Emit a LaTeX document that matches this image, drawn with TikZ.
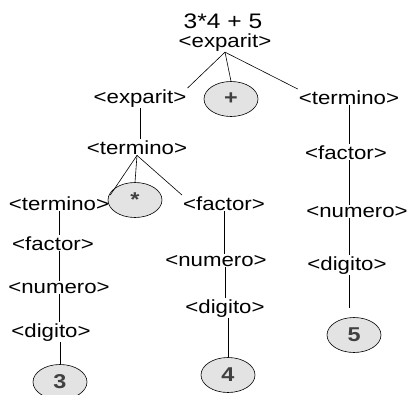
\documentclass[tikz,border=0pt]{standalone}
\usepackage{fontspec}
\setmainfont{Liberation Sans}[FakeStretch=1.17]
\usetikzlibrary{shapes.geometric}

\tikzset{
  sym/.style={anchor=base, inner sep=1pt, font=\fontsize{19}{21}\selectfont},
  tok/.style={ellipse, draw, line width=0.6pt, fill=gray!22, minimum width=54pt,
    minimum height=35pt, inner sep=0pt, text=black!75,
    font=\bfseries\fontsize{20}{22}\selectfont},
  arc/.style={line width=0.6pt}
}

\begin{document}
\begin{tikzpicture}[x=1pt,y=-1pt]
    \useasboundingbox (0,0) rectangle (411,394);
    \clip (0,0) rectangle (411,394);

    % expression and root
    \node[sym, font=\fontsize{21}{23}\selectfont] (expr) at (223,28) {3*4 + 5};
    \node[sym] (root) at (225,47) {<exparit>};

    % first level
    \node[sym] (exp2) at (140,103) {<exparit>};
    \node[tok] (plus) at (231,99) {+};
    \node[sym] (termR) at (349,104) {<termino>};

    % left branch
    \node[sym] (termM) at (137,154) {<termino>};
    \node[sym] (termL) at (59,210) {<termino>};
    \node[tok] (star) at (135,200) {*};
    \node[sym] (factM) at (224,210) {<factor>};
    \node[sym] (factL) at (53,250) {<factor>};
    \node[sym] (numL) at (59,293) {<numero>};
    \node[sym] (digL) at (51,337) {<digito>};
    \node[tok] (n3) at (60,382) {3};
    \node[sym] (numM) at (216,266) {<numero>};
    \node[sym] (digM) at (225,313) {<digito>};
    \node[tok] (n4) at (228,375) {4};

    % right branch
    \node[sym] (factR) at (346,159) {<factor>};
    \node[sym] (numR) at (357,217) {<numero>};
    \node[sym] (digR) at (347,270) {<digito>};
    \node[tok] (n5) at (354,335) {5};

    \draw[arc] (root.south) -- (exp2.north east);
    \draw[arc] (root.south) -- (plus.north);
    \draw[arc] (root.south) -- (termR.north west);
    \draw[arc] (exp2.south) -- (exp2.south |- termM.north);
    \draw[arc] (termM.south) -- (termL.north east);
    \draw[arc] (termM.south) -- (star.north);
    \draw[arc] (termM.south) -- (factM.north west);
    \draw[arc] (termL.south) -- (termL.south |- factL.north);
    \draw[arc] (numL.north |- factL.south) -- (numL.north);
    \draw[arc] (numL.south) -- (numL.south |- digL.north);
    \draw[arc] (n3.north |- digL.south) -- (n3.north);
    \draw[arc] (factM.south) -- (factM.south |- numM.north);
    \draw[arc] (digM.north |- numM.south) -- (digM.north);
    \draw[arc] (n4.north |- digM.south) -- (n4.north);
    \draw[arc] (termR.south) -- (termR.south |- factR.north);
    \draw[arc] (termR.south |- factR.south) -- (termR.south |- numR.north);
    \draw[arc] (termR.south |- numR.south) -- (termR.south |- digR.north);
    \draw[arc, shorten >=9pt] (termR.south |- digR.south) -- (termR.south |- n5.north);
\end{tikzpicture}
\end{document}
